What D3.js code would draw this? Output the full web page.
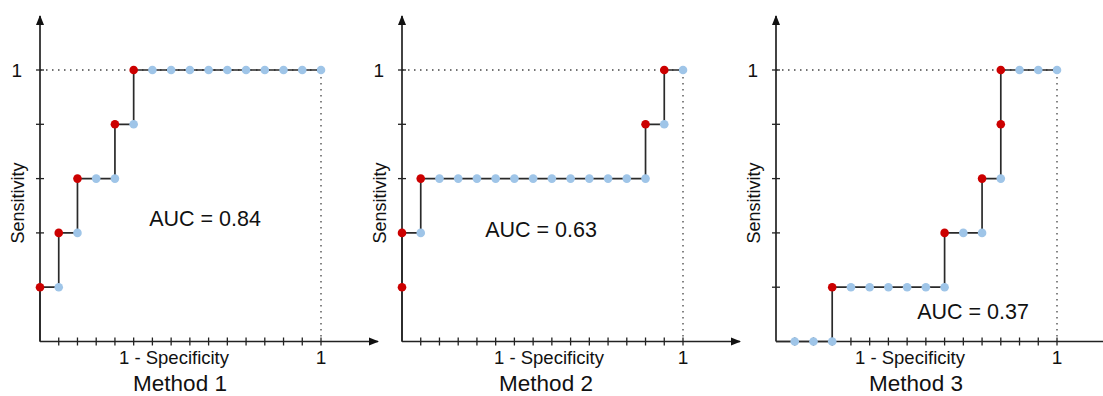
<!DOCTYPE html>
<html>
<head>
<meta charset="utf-8">
<script src="https://cdn.jsdelivr.net/npm/d3@7"></script>
<style>
  body { margin: 0; background: #fff; }
  text { font-family: "Liberation Sans", Arial, sans-serif; fill: #111; }
</style>
</head>
<body>
<div id="chart"></div>
<script>
// ranked samples for each method, 1 = positive (red), 0 = negative (blue)
var method1 = [1,0,1,0,1,0,0,1,0,1,0,0,0,0,0,0,0,0,0,0];
var method2 = [1,1,0,1,0,0,0,0,0,0,0,0,0,0,0,0,1,0,1,0];
var method3 = [0,0,0,1,0,0,0,0,0,0,1,0,0,1,0,1,1,0,0,0];
var methodNames = ["Method 1", "Method 2", "Method 3"];
var aucLabels = ["AUC = 0.84", "AUC = 0.63", "AUC = 0.37"];
var methods = [method1, method2, method3];

var nPos = 5, nNeg = 15;

// layout for each panel (pixels)
var panelX = [40, 402, 776];
var aucPos = [[165, 226], [139, 237], [197, 319]];
var specPos = [134, 147, 134];
var methodPos = [140, 144, 140];

var width = 1103, height = 396,
    plotW = 281, y0 = 341.5, y1 = 70;

var svg = d3.select("#chart").append("svg")
    .attr("width", width)
    .attr("height", height);

var defs = svg.append("defs");
defs.append("marker")
    .attr("id", "arrow")
    .attr("viewBox", "0 0 10 10")
    .attr("refX", 9).attr("refY", 5)
    .attr("markerWidth", 10).attr("markerHeight", 10)
    .attr("markerUnits", "userSpaceOnUse")
    .attr("orient", "auto")
  .append("path")
    .attr("d", "M0,1 L10,5 L0,9 Z")
    .attr("fill", "#111");

methods.forEach(function(seq, i) {
  var ox = panelX[i];
  var x = d3.scaleLinear().domain([0, 1]).range([ox, ox + plotW]);
  var y = d3.scaleLinear().domain([0, 1]).range([y0, y1]);

  // turn ranked samples into roc points
  var tp = 0, fp = 0, pts = [];
  seq.forEach(function(s) {
    if (s) tp++; else fp++;
    pts.push({fpr: fp / nNeg, tpr: tp / nPos, pos: s});
  });

  var g = svg.append("g");

  // dotted guide lines at sensitivity 1 / specificity 1
  g.append("path")
      .attr("d", "M" + x(0) + "," + y(1) + "H" + x(1) + "V" + y(0))
      .attr("fill", "none")
      .attr("stroke", "#444")
      .attr("stroke-width", 1.3)
      .attr("stroke-dasharray", "1.5,4.5");

  // axes with arrows
  g.append("line")
      .attr("x1", x(0)).attr("y1", y(0))
      .attr("x2", x(0) + 338).attr("y2", y(0))
      .attr("stroke", "#222").attr("stroke-width", 1.7)
      .attr("marker-end", "url(#arrow)");
  g.append("line")
      .attr("x1", x(0)).attr("y1", y(0))
      .attr("x2", x(0)).attr("y2", 16)
      .attr("stroke", "#222").attr("stroke-width", 1.7)
      .attr("marker-end", "url(#arrow)");

  // ticks
  g.selectAll("line.xt")
    .data(d3.range(1, nNeg + 1).map(function(k) { return k / nNeg; }))
    .enter().append("line")
      .attr("class", "xt")
      .attr("x1", function(d) { return x(d); })
      .attr("x2", function(d) { return x(d); })
      .attr("y1", y0 - 4).attr("y2", y0 + 4)
      .attr("stroke", "#222").attr("stroke-width", 1.3);
  g.selectAll("line.yt")
    .data(d3.range(1, nPos + 1).map(function(k) { return k / nPos; }))
    .enter().append("line")
      .attr("class", "yt")
      .attr("y1", function(d) { return y(d); })
      .attr("y2", function(d) { return y(d); })
      .attr("x1", ox - 4).attr("x2", ox + 4)
      .attr("stroke", "#222").attr("stroke-width", 1.3);

  // step curve
  var line = d3.line()
      .x(function(d) { return x(d.fpr); })
      .y(function(d) { return y(d.tpr); });
  g.append("path")
      .datum([{fpr: 0, tpr: 0}].concat(pts))
      .attr("d", line)
      .attr("fill", "none")
      .attr("stroke", "#2a2a2a")
      .attr("stroke-width", 1.7);

  g.selectAll("circle")
    .data(pts)
    .enter().append("circle")
      .attr("cx", function(d) { return x(d.fpr); })
      .attr("cy", function(d) { return y(d.tpr); })
      .attr("r", 4.3)
      .attr("fill", function(d) { return d.pos ? "#cc0000" : "#9fc5e8"; });

  // labels
  g.append("text")
      .attr("x", ox - 18).attr("y", y(1) + 6.5)
      .attr("text-anchor", "end")
      .attr("font-size", 19)
      .text("1");
  g.append("text")
      .attr("x", x(1)).attr("y", 364)
      .attr("text-anchor", "middle")
      .attr("font-size", 19)
      .text("1");
  g.append("text")
      .attr("x", ox + specPos[i]).attr("y", 364)
      .attr("text-anchor", "middle")
      .attr("font-size", 18.5)
      .text("1 - Specificity");
  g.append("text")
      .attr("transform", "translate(" + (ox - 16) + ",203) rotate(-90)")
      .attr("text-anchor", "middle")
      .attr("font-size", 18)
      .text("Sensitivity");
  g.append("text")
      .attr("x", ox + aucPos[i][0]).attr("y", aucPos[i][1])
      .attr("text-anchor", "middle")
      .attr("font-size", 21.5)
      .text(aucLabels[i]);
  g.append("text")
      .attr("x", ox + methodPos[i]).attr("y", 391)
      .attr("text-anchor", "middle")
      .attr("font-size", 22.5)
      .text(methodNames[i]);
});
</script>
</body>
</html>
